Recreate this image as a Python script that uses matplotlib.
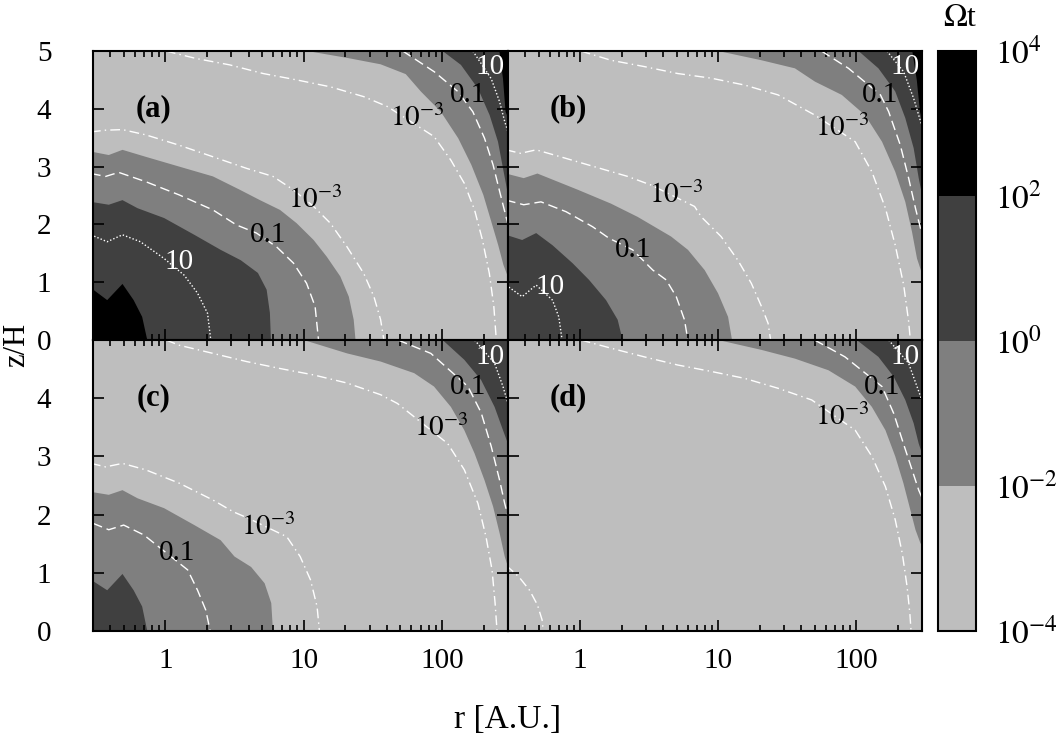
import matplotlib
matplotlib.use('Agg')
import matplotlib.pyplot as plt
from matplotlib.colors import ListedColormap, BoundaryNorm
from matplotlib.cm import ScalarMappable

plt.rcParams['font.family'] = ['Liberation Serif', 'DejaVu Serif']
plt.rcParams['mathtext.fontset'] = 'stix'

R_MIN, R_MAX = 0.3, 300
Z_MIN, Z_MAX = 0, 5

# Omega*t bands and their greys
band_edges = [1e-4, 1e-2, 1e0, 1e2, 1e4]
band_exponents = [-4, -2, 0, 2, 4]
band_colors = ['#bebebe', '#7f7f7f', '#404040', '#000000']
LIGHT, MEDIUM, DARK, BLACK = band_colors

r_ticks = [1, 10, 100]
r_tick_labels = ['1', '10', '100']
z_ticks = [0, 1, 2, 3, 4, 5]

# boundaries as (r [AU], z/H) points
# inner ones run from the left edge down to the midplane,
# outer ones from the top edge to the right edge / midplane

# ---- (a)
a_black_in = [(0.29, 0.90), (0.38, 0.69), (0.49, 0.97), (0.59, 0.69), (0.68, 0.40), (0.74, 0.0)]
a_dark_in = [(0.29, 2.39), (0.39, 2.34), (0.49, 2.42), (0.63, 2.28), (0.98, 2.11), (1.62, 1.82),
             (2.51, 1.56), (3.51, 1.38), (4.67, 1.16), (5.4, 0.87), (5.7, 0.47), (5.8, 0.0)]
a_med_in = [(0.29, 3.26), (0.39, 3.20), (0.49, 3.29), (0.72, 3.17), (1.26, 3.00), (2.21, 2.83),
            (3.45, 2.60), (4.83, 2.42), (6.75, 2.25), (8.9, 2.02), (11.8, 1.73), (14.7, 1.44),
            (18.4, 1.10), (21.2, 0.75), (23.0, 0.35), (23.7, 0.0)]
a_med_out = [(10.6, 5.0), (20.7, 4.88), (36, 4.77), (54.7, 4.60), (70.3, 4.30), (98, 3.95),
             (131, 3.49), (163, 3.03), (199, 2.51), (227, 2.05), (255, 1.64), (278, 1.30), (302, 1.07)]
a_dark_out = [(101, 5.0), (137, 4.76), (182, 4.35), (221, 3.89), (254, 3.43), (276, 2.97), (297, 2.57)]
a_black_out = [(260, 5.0), (276, 4.52), (288, 3.95), (300, 3.85)]

a_dd_in = [(0.29, 3.60), (0.37, 3.63), (0.49, 3.64), (0.72, 3.55), (1.26, 3.37), (2.21, 3.17),
           (3.86, 2.97), (6.0, 2.83), (8.4, 2.60), (11.8, 2.31), (15.6, 2.02), (20.6, 1.61),
           (27.2, 1.15), (32.2, 0.75), (36, 0.35), (38, 0.0)]
a_dash_in = [(0.29, 2.88), (0.37, 2.83), (0.46, 2.90), (0.72, 2.74), (1.26, 2.51), (2.21, 2.25),
             (3.27, 1.99), (4.56, 1.85), (6.38, 1.61), (8.44, 1.33), (10.5, 0.98), (12.1, 0.58), (12.8, 0.0)]
a_dot_in = [(0.29, 1.82), (0.38, 1.70), (0.49, 1.82), (0.66, 1.70), (0.98, 1.41), (1.37, 1.12),
            (1.71, 0.81), (2.02, 0.46), (2.13, 0.0)]
a_dd_out = [(1.01, 5.0), (1.67, 4.87), (2.92, 4.76), (5.1, 4.61), (8.9, 4.50), (15.6, 4.38),
            (27.2, 4.21), (40.2, 4.04), (87.6, 3.52), (116, 3.11), (145, 2.71), (172, 2.25),
            (196, 1.73), (220, 1.15), (237, 0.58), (247, 0.0)]
a_dash_out = [(52, 5.0), (88, 4.64), (130, 4.30), (167, 3.95), (203, 3.49), (234, 3.03),
              (261, 2.57), (292, 2.11), (300, 2.0)]
a_dot_out = [(167, 5.0), (227, 4.52), (261, 4.12), (284, 3.78), (300, 3.6)]

# ---- (b)
b_dark_in = [(0.29, 1.82), (0.38, 1.73), (0.48, 1.85), (0.63, 1.64), (0.88, 1.33), (1.16, 1.04),
             (1.54, 0.69), (1.87, 0.35), (2.03, 0.0)]
b_med_in = [(0.29, 2.88), (0.39, 2.80), (0.49, 2.88), (0.96, 2.60), (1.67, 2.36), (2.61, 2.13),
            (3.45, 1.96), (4.56, 1.79), (6.04, 1.56), (7.98, 1.21), (9.97, 0.81), (11.8, 0.40), (12.6, 0.0)]
b_med_out = [(10, 5.0), (20.6, 4.84), (36, 4.70), (50.3, 4.47), (78.7, 4.24), (116, 3.89),
             (154, 3.43), (192, 2.91), (227, 2.39), (254, 1.87), (276, 1.41), (297, 1.18)]
b_dark_out = [(104, 5.0), (145, 4.70), (192, 4.30), (227, 3.84), (261, 3.32), (284, 2.80), (297, 2.57)]
b_black_out = [(255, 5.0), (275, 4.5), (290, 3.95), (300, 3.8)]

b_dd_in = [(0.29, 3.29), (0.37, 3.23), (0.48, 3.29), (0.72, 3.17), (1.26, 3.00), (2.21, 2.83),
           (3.27, 2.68), (6.75, 2.31), (7.55, 2.13), (10.5, 1.79), (13.9, 1.38), (17.4, 0.98),
           (20.6, 0.58), (23, 0.29), (24, 0.0)]
b_dash_in = [(0.29, 2.42), (0.39, 2.34), (0.52, 2.39), (0.79, 2.22), (1.23, 1.96), (1.62, 1.76),
             (2.4, 1.56), (3.36, 1.21), (4.2, 1.04), (4.97, 0.75), (5.7, 0.35), (6.03, 0.0)]
b_dot_in = [(0.29, 0.95), (0.38, 0.75), (0.48, 0.95), (0.63, 0.69), (0.70, 0.40), (0.74, 0.0)]
b_dd_out = [(1.01, 5.0), (1.67, 4.84), (2.92, 4.73), (5.1, 4.61), (8.9, 4.53), (15.6, 4.41),
            (27.2, 4.24), (50.3, 3.89), (98.4, 3.43), (130, 2.91), (163, 2.28), (192, 1.64),
            (221, 0.95), (240, 0.32), (247, 0.0)]
b_dash_out = [(56, 5.0), (88, 4.70), (150, 4.24), (172, 3.95), (209, 3.37), (240, 2.80),
              (269, 2.28), (297, 1.87)]
b_dot_out = [(167, 5.0), (221, 4.64), (261, 4.18), (288, 3.84), (300, 3.7)]

# ---- (c)
c_dark_in = [(0.29, 0.88), (0.38, 0.70), (0.49, 0.98), (0.59, 0.70), (0.68, 0.42), (0.74, 0.0)]
c_med_in = [(0.29, 2.39), (0.39, 2.34), (0.49, 2.42), (0.63, 2.28), (0.98, 2.11), (1.62, 1.82),
            (2.51, 1.56), (3.16, 1.28), (4.17, 1.10), (5.22, 0.82), (5.83, 0.48), (6.0, 0.0)]
c_med_out = [(10, 5.0), (20.6, 4.77), (36, 4.63), (63, 4.43), (87.6, 4.20), (116, 3.85),
             (145, 3.45), (172, 3.05), (203, 2.59), (234, 2.14), (261, 1.68), (284, 1.28), (305, 1.05)]
c_dark_out = [(101, 5.0), (145, 4.66), (192, 4.31), (240, 3.85), (276, 3.45), (305, 3.17)]

c_dd_in = [(0.29, 2.88), (0.37, 2.82), (0.49, 2.88), (0.72, 2.77), (1.26, 2.54), (2.21, 2.25),
           (3.09, 2.05), (3.95, 1.94), (7.55, 1.62), (9.43, 1.28), (11.2, 0.88), (12.5, 0.42), (13.0, 0.0)]
c_dash_in = [(0.30, 1.85), (0.39, 1.74), (0.50, 1.82), (0.70, 1.65), (1.45, 1.05), (1.71, 0.70),
             (1.96, 0.36), (2.11, 0.0)]
c_dd_out = [(1.01, 5.0), (1.26, 4.91), (2.21, 4.77), (3.86, 4.63), (6.75, 4.51), (11.8, 4.40),
            (20.6, 4.26), (36, 4.06), (47.6, 3.91), (110, 3.22), (145, 2.77), (182, 2.19),
            (208, 1.62), (230, 1.05), (242, 0.48), (250, 0.0)]
c_dash_out = [(48, 5.0), (83, 4.77), (154, 4.20), (192, 3.75), (227, 3.17), (261, 2.59),
              (284, 2.19), (305, 1.91)]
c_dot_out = [(172, 5.0), (240, 4.6), (276, 4.2), (305, 3.85)]

# ---- (d)
d_med_out = [(10, 5.0), (20.6, 4.83), (36, 4.68), (63, 4.48), (98.4, 4.20), (130, 3.85),
             (163, 3.45), (192, 3.0), (220, 2.54), (247, 2.08), (269, 1.74), (292, 1.51), (305, 1.45)]
d_dark_out = [(101, 5.0), (145, 4.71), (187, 4.37), (227, 3.97), (261, 3.57), (284, 3.22), (305, 3.0)]

d_dd_in = [(0.29, 1.13), (0.36, 0.93), (0.43, 0.70), (0.49, 0.45), (0.53, 0.19), (0.54, 0.0)]
d_dd_out = [(1.01, 5.0), (1.67, 4.86), (2.92, 4.71), (5.1, 4.57), (8.9, 4.46), (15.6, 4.34),
            (27.2, 4.17), (47.6, 3.97), (98.4, 3.45), (130, 3.0), (163, 2.48), (192, 1.91),
            (216, 1.33), (234, 0.76), (245, 0.3), (250, 0.0)]
d_dash_out = [(50, 5.0), (83, 4.71), (154, 4.20), (187, 3.74), (220, 3.22), (254, 2.77),
              (284, 2.42), (305, 2.25)]
d_dot_out = [(172, 5.0), (240, 4.6), (276, 4.2), (305, 3.91)]

# contour labels: text, r, z, colour
a_labels = [('$10^{-3}$', 12.1, 2.42, 'k'), ('0.1', 5.55, 1.82, 'k'), ('10', 1.26, 1.35, 'w'),
            ('$10^{-3}$', 66, 3.84, 'k'), ('0.1', 154, 4.24, 'k'), ('10', 222, 4.73, 'w')]
b_labels = [('$10^{-3}$', 4.97, 2.51, 'k'), ('0.1', 2.4, 1.56, 'k'), ('10', 0.6, 0.92, 'w'),
            ('$10^{-3}$', 78.6, 3.66, 'k'), ('0.1', 150, 4.24, 'k'), ('10', 227, 4.73, 'w')]
c_labels = [('$10^{-3}$', 5.55, 1.79, 'k'), ('0.1', 1.22, 1.34, 'k'),
            ('$10^{-3}$', 98.4, 3.48, 'k'), ('0.1', 154, 4.20, 'k'), ('10', 221, 4.71, 'w')]
d_labels = [('$10^{-3}$', 78.6, 3.68, 'k'), ('0.1', 154, 4.20, 'k'), ('10', 227, 4.71, 'w')]

DASHDOT = (0, (7, 3, 1, 3))
DASHED = (0, (7, 3.5))
DOTTED = (0, (1, 1.5))

panels = [
    ('(a)', [(a_med_in, MEDIUM), (a_dark_in, DARK), (a_black_in, BLACK)],
     [(a_med_out, MEDIUM), (a_dark_out, DARK), (a_black_out, BLACK)],
     [(a_dd_in, DASHDOT), (a_dash_in, DASHED), (a_dot_in, DOTTED),
      (a_dd_out, DASHDOT), (a_dash_out, DASHED), (a_dot_out, DOTTED)], a_labels),
    ('(b)', [(b_med_in, MEDIUM), (b_dark_in, DARK)],
     [(b_med_out, MEDIUM), (b_dark_out, DARK), (b_black_out, BLACK)],
     [(b_dd_in, DASHDOT), (b_dash_in, DASHED), (b_dot_in, DOTTED),
      (b_dd_out, DASHDOT), (b_dash_out, DASHED), (b_dot_out, DOTTED)], b_labels),
    ('(c)', [(c_med_in, MEDIUM), (c_dark_in, DARK)],
     [(c_med_out, MEDIUM), (c_dark_out, DARK)],
     [(c_dd_in, DASHDOT), (c_dash_in, DASHED),
      (c_dd_out, DASHDOT), (c_dash_out, DASHED), (c_dot_out, DOTTED)], c_labels),
    ('(d)', [],
     [(d_med_out, MEDIUM), (d_dark_out, DARK)],
     [(d_dd_in, DASHDOT), (d_dd_out, DASHDOT), (d_dash_out, DASHED), (d_dot_out, DOTTED)], d_labels),
]


def split(pts):
    return [p[0] for p in pts], [p[1] for p in pts]


def fill_inner(ax, pts, color):
    # region between the boundary and the lower-left corner
    r, z = split(pts)
    rr = [0.1] + r + [r[-1], 0.1]
    zz = [z[0]] + z + [-1, -1]
    ax.fill(rr, zz, color=color, lw=0, zorder=1)


def fill_outer(ax, pts, color):
    # region between the boundary and the upper-right corner
    r, z = split(pts)
    rr = [r[0]] + r + [1000, 1000]
    zz = [6] + z + [z[-1], 6]
    ax.fill(rr, zz, color=color, lw=0, zorder=1)


fig = plt.figure(figsize=(10.57, 7.52), dpi=100)
W, H = 1057, 752
boxes = [(93, 51, 508, 340), (508, 51, 922, 340), (93, 340, 508, 631), (508, 340, 922, 631)]

for i, (name, inner, outer, lines, labels) in enumerate(panels):
    x0, y0, x1, y1 = boxes[i]
    ax = fig.add_axes([x0 / W, 1 - y1 / H, (x1 - x0) / W, (y1 - y0) / H])
    ax.set_facecolor(LIGHT)
    ax.set_xscale('log')

    for pts, col in inner:
        fill_inner(ax, pts, col)
    for pts, col in outer:
        fill_outer(ax, pts, col)
    for pts, ls in lines:
        r, z = split(pts)
        ax.plot(r, z, color='white', lw=1.0, ls=ls, zorder=2)
    for txt, r, z, col in labels:
        ax.text(r, z, txt, color=col, fontsize=21, ha='center', va='center', zorder=3)
    ax.text(0.82, 4.0, name, fontsize=22, fontweight='bold', ha='center', va='center', zorder=3)

    ax.set_xlim(R_MIN, R_MAX)
    ax.set_ylim(Z_MIN, Z_MAX)
    ax.set_xticks(r_ticks)
    ax.set_yticks(z_ticks)
    ax.tick_params(which='both', direction='in', top=True, right=True, width=1.2)
    ax.tick_params(which='major', length=8, labelsize=21)
    ax.tick_params(which='minor', length=4)
    ax.tick_params(axis='x', pad=12)
    ax.tick_params(axis='y', pad=30)
    for s in ax.spines.values():
        s.set_linewidth(1.5)

    if i >= 2:
        ax.set_xticklabels(r_tick_labels)
    else:
        ax.set_xticklabels([])
    if i == 0:
        ax.set_yticklabels([str(t) for t in z_ticks])
    elif i == 2:
        ax.set_yticklabels([str(t) for t in z_ticks[:-1]] + [''])
    else:
        ax.set_yticklabels([])

fig.text(0.48, 1 - 720 / H, 'r [A.U.]', fontsize=24, ha='center', va='center')
fig.text(17 / W, 1 - 345 / H, 'z/H', fontsize=22, rotation=90, ha='center', va='center')

# colour key
cax = fig.add_axes([938 / W, 1 - 631 / H, 38 / W, 580 / H])
cmap = ListedColormap(band_colors)
norm = BoundaryNorm(band_edges, cmap.N)
cb = fig.colorbar(ScalarMappable(norm=norm, cmap=cmap), cax=cax, ticks=band_edges)
cb.ax.set_yticklabels(['$10^{%d}$' % e for e in band_exponents])
cb.ax.tick_params(length=0, labelsize=24, pad=14)
cb.outline.set_linewidth(1.5)
fig.text(960 / W, 1 - 18 / H, r'$\Omega$t', fontsize=23, ha='center', va='center')

plt.savefig('out.png', dpi=100)
